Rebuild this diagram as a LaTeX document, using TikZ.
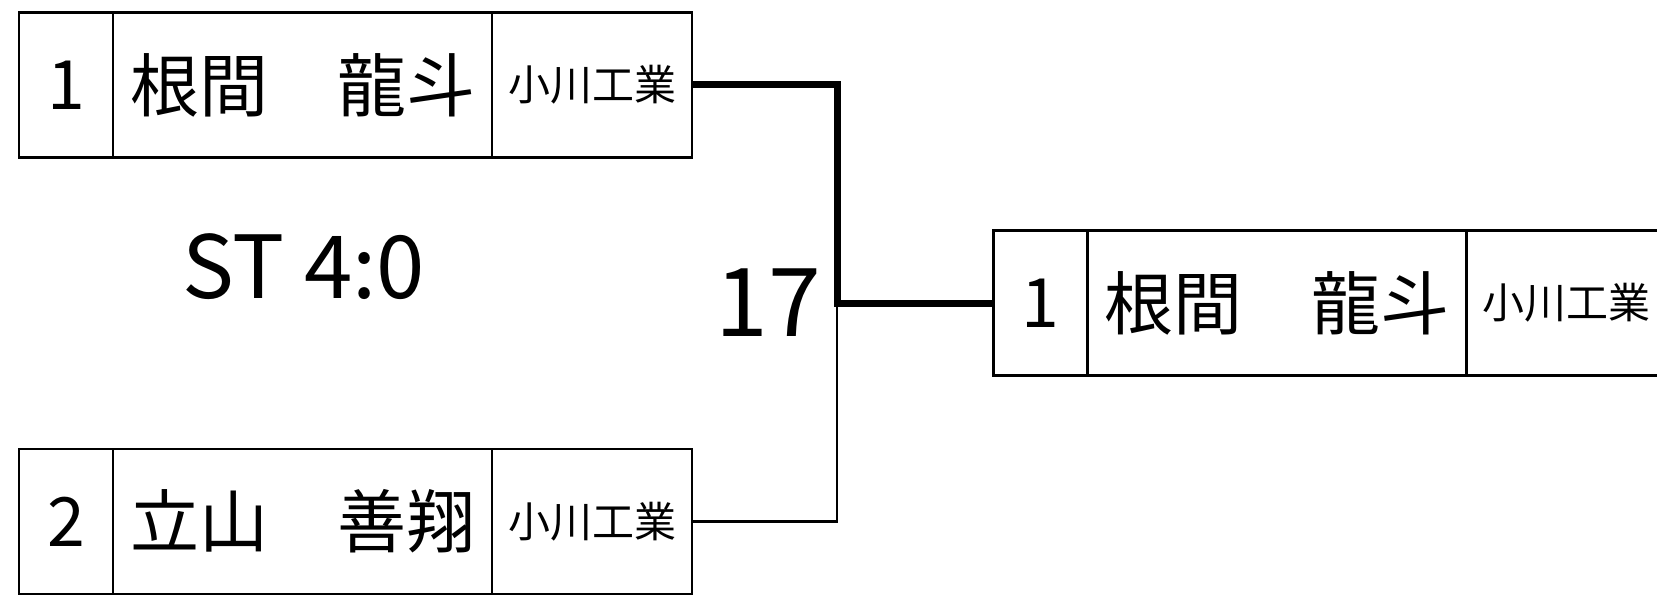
\documentclass[tikz,border=0pt]{standalone}
\usepackage{fontspec}
\setmainfont{Noto Sans CJK JP}
\begin{document}
\begin{tikzpicture}[x=1pt,y=-1pt,
  cell/.style={draw, line width=2.5pt, inner sep=0pt, outer sep=0pt, minimum height=145pt},
  numcell/.style={cell, minimum width=94pt, font=\fontsize{68}{68}\selectfont},
  namecell/.style={cell, minimum width=379pt, font=\fontsize{69}{69}\selectfont},
  schoolcell/.style={cell, minimum width=200pt, font=\fontsize{42}{42}\selectfont},
  wline/.style={line width=7pt},
  nline/.style={line width=2.5pt}]
\useasboundingbox (0,0) rectangle (1657,599);
\clip (0,0) rectangle (1657,599);
% top entry
\node[numcell] (an) at (66,85) {1};
\node[namecell] (aname) at (302.5,85) {根間　龍斗};
\node[schoolcell] (aschool) at (592,85) {小川工業};
% bottom entry
\node[numcell] (bn) at (66,521.5) {2};
\node[namecell] (bname) at (302.5,521.5) {立山　善翔};
\node[schoolcell] (bschool) at (592,521.5) {小川工業};
% winner
\node[numcell] (cn) at (1040.5,303) {1};
\node[namecell] (cname) at (1277,303) {根間　龍斗};
\node[schoolcell] (cschool) at (1566.5,303) {小川工業};
% connectors
\coordinate (j) at (837,303);
\draw[nline] (bschool.east) -| (j);
\draw[wline] (aschool.east) -| (j) -- (cn.west);
% labels
\node[font=\fontsize{95}{95}\selectfont, anchor=east, inner sep=0pt] (match) at (821,303) {17};
\node[font=\fontsize{87}{87}\selectfont, inner sep=0pt] (score) at (304,267) {ST 4:0};
\end{tikzpicture}
\end{document}
